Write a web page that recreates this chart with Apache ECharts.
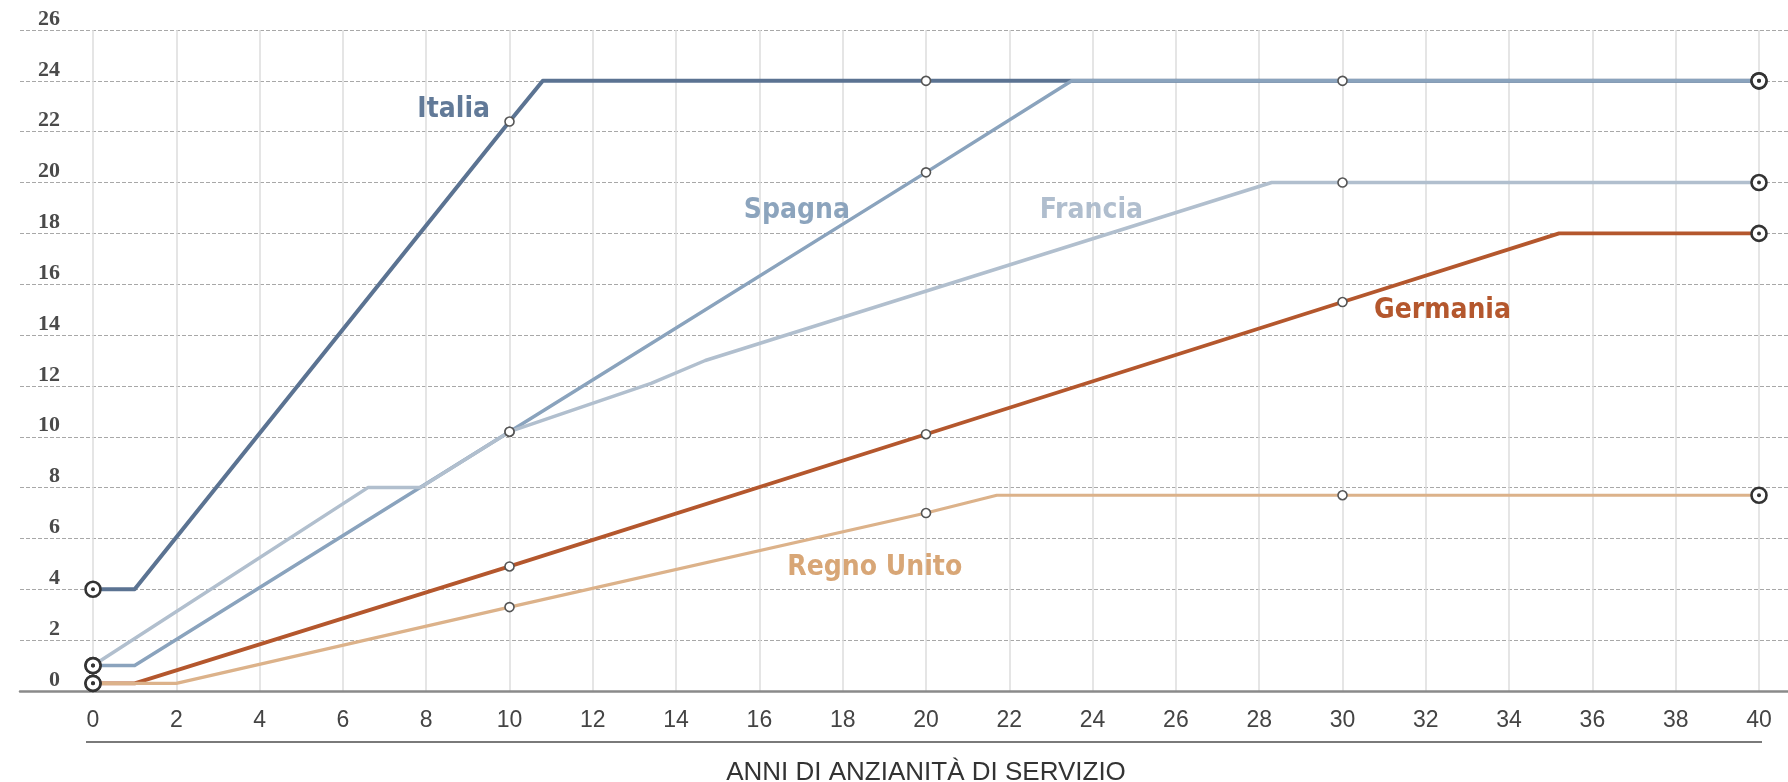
<!DOCTYPE html>
<html>
<head>
<meta charset="utf-8">
<script src="https://cdn.jsdelivr.net/npm/echarts@6/dist/echarts.min.js"></script>
<style>
html,body{margin:0;padding:0;background:#fff;}
#chart{width:1788px;height:782px;}
</style>
</head>
<body>
<div id="chart"></div>
<script>
// ---- data (years of service, value) ----
const italia   = [[0,4],[1,4],[10,22.4],[10.8,24],[20,24],[30,24],[40,24]];
const spagna   = [[0,1],[1,1],[10,10.2],[20,20.4],[23.5,24],[40,24]];
const francia  = [[0,1],[6.6,8],[7.86,8],[10,10.2],[13.4,12.1],[14.7,13],[28.3,20],[30,20],[40,20]];
const germania = [[0,0.3],[1,0.3],[10,4.9],[20,10.1],[30,15.3],[35.2,18],[40,18]];
const regnoUnito = [[0,0.3],[2,0.3],[10,3.3],[20,7.0],[21.7,7.7],[30,7.7],[40,7.7]];
const countryNames = ['Italia','Spagna','Francia','Germania','Regno Unito'];
const xTicks = [0,2,4,6,8,10,12,14,16,18,20,22,24,26,28,30,32,34,36,38,40];
const yTicks = [0,2,4,6,8,10,12,14,16,18,20,22,24,26];
const xTitle = 'ANNI DI ANZIANITÀ DI SERVIZIO';

const allSeries = [italia, spagna, francia, germania, regnoUnito];
const lineColors  = ['#5b7392','#8aa3bd','#b1bfce','#b4572d','#dcb28a'];
const labelColors = ['#627a98','#8ca4bd','#b0bece','#b4572d','#d8a676'];
const lineWidths  = [4,3.5,3.5,3.8,3.2];
// label anchor positions in data units
const labelAnchors = [[8.66,22.85],[16.9,18.9],[23.97,18.9],[32.4,14.95],[18.77,4.85]];

const decadeMarks = [];
const endMarks = [];
allSeries.forEach(s => s.forEach(p => {
  if (p[0] === 10 || p[0] === 20 || p[0] === 30) decadeMarks.push(p);
  if (p[0] === 0 || p[0] === 40) endMarks.push(p);
}));

const condensed = '"Liberation Sans Narrow","DejaVu Sans Condensed",sans-serif';
const sans = '"Liberation Sans","DejaVu Sans",sans-serif';

const chart = echarts.init(document.getElementById('chart'), null, {renderer:'canvas'});

const series = [];
allSeries.forEach((s, i) => {
  series.push({
    type:'line', xAxisIndex:1, yAxisIndex:1,
    data:s, symbol:'none', z:2+i,
    lineStyle:{color:lineColors[i], width:lineWidths[i], cap:'round', join:'round'},
    silent:true, animation:false
  });
});
series.push({
  type:'scatter', xAxisIndex:1, yAxisIndex:1, data:decadeMarks,
  symbol:'circle', symbolSize:9, z:20, silent:true, animation:false,
  itemStyle:{color:'#ffffff', borderColor:'#555555', borderWidth:1.6, opacity:1}
});
series.push({
  type:'scatter', xAxisIndex:1, yAxisIndex:1, data:endMarks,
  symbol:'circle', symbolSize:15, z:21, silent:true, animation:false,
  itemStyle:{color:'#ffffff', borderColor:'#333333', borderWidth:2.6, opacity:1}
});
series.push({
  type:'scatter', xAxisIndex:1, yAxisIndex:1, data:endMarks,
  symbol:'circle', symbolSize:4, z:22, silent:true, animation:false,
  itemStyle:{color:'#333333', opacity:1}
});
series.push({
  type:'scatter', xAxisIndex:1, yAxisIndex:1, z:30, silent:true, animation:false,
  symbolSize:0, itemStyle:{color:'rgba(0,0,0,0)', opacity:1},
  data: labelAnchors.map((p,i)=>({value:p, name:countryNames[i],
    label:{color:labelColors[i]}})),
  label:{show:true, position:'inside', formatter:'{b}',
    textBorderWidth:0, textBorderColor:'transparent', textShadowBlur:0,
    fontFamily:condensed, fontWeight:'bold', fontSize:28}
});

chart.setOption({
  animation:false,
  backgroundColor:'#ffffff',
  grid:[
    {left:20, right:0, top:30, bottom:91, containLabel:false, outerBoundsMode:'none'},
    {left:93, right:29, top:30, bottom:91, containLabel:false, outerBoundsMode:'none'}
  ],
  xAxis:[
    {gridIndex:0, type:'value', min:0, max:1, show:true,
     axisLine:{show:true, lineStyle:{color:'#8a8a8a', width:2.5}},
     axisTick:{show:false}, axisLabel:{show:false}, splitLine:{show:false}},
    {gridIndex:1, type:'value', min:xTicks[0], max:xTicks[xTicks.length-1], interval:2,
     axisLine:{show:false}, axisTick:{show:false},
     axisLabel:{color:'#444', fontFamily:sans, fontSize:23, margin:18},
     splitLine:{show:true, lineStyle:{color:'#dddddd', width:1.5}}}
  ],
  yAxis:[
    {gridIndex:0, type:'value', min:yTicks[0], max:yTicks[yTicks.length-1], interval:2,
     axisLine:{show:false}, axisTick:{show:false},
     axisLabel:{color:'#4a4a4a', fontFamily:'"Liberation Serif","DejaVu Serif",serif',
       fontSize:22, fontWeight:'bold', margin:-40, align:'right', verticalAlign:'bottom',
       padding:[0,0,0,0]},
     splitLine:{show:true, lineStyle:{color:'#a8a8a8', width:1.2, type:[4,2]}}},
    {gridIndex:1, type:'value', min:yTicks[0], max:yTicks[yTicks.length-1], interval:2,
     show:false, splitLine:{show:false}}
  ],
  graphic:[
    {type:'line', shape:{x1:86, y1:742, x2:1762, y2:742},
     style:{stroke:'#7a7a7a', lineWidth:2}, silent:true},
    {type:'text', x:926, y:773,
     style:{text:xTitle, fill:'#333', font:'26px "Liberation Sans", sans-serif',
       textAlign:'center', textVerticalAlign:'middle'}, silent:true}
  ],
  series:series
});
</script>
</body>
</html>
